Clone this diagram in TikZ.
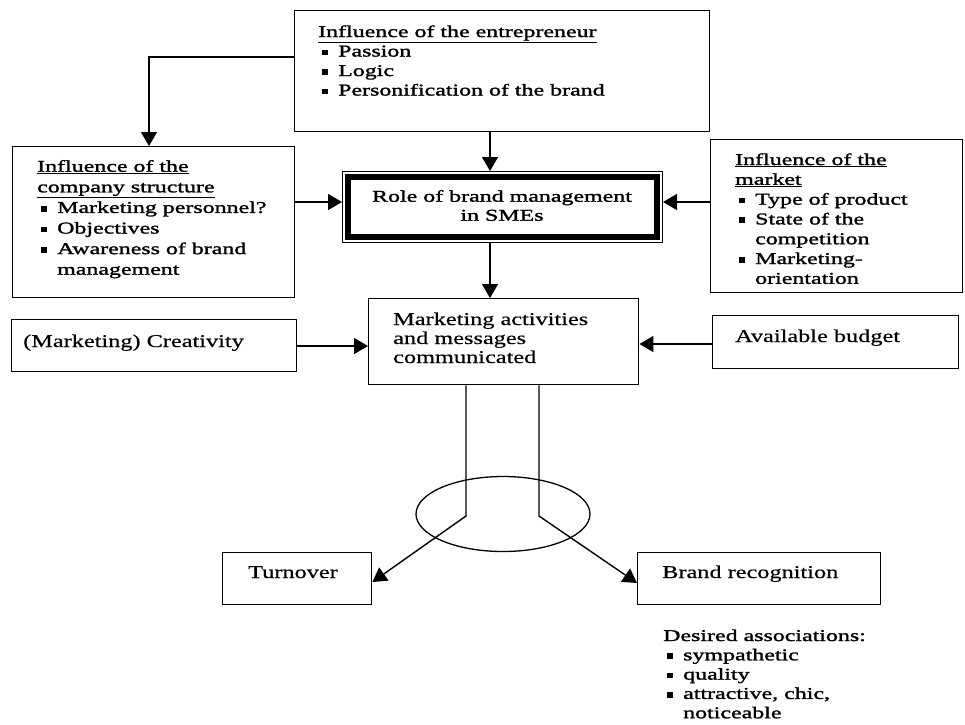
\documentclass[tikz,border=0pt]{standalone}
\usepackage{fontspec}
\setmainfont{Liberation Serif}
\newfontfamily\fa[FakeStretch=1.45,FakeBold=1.6]{Liberation Serif}
\newfontfamily\fb[FakeStretch=1.35,FakeBold=0.4]{Liberation Serif}
\usetikzlibrary{arrows.meta,shapes.geometric}
\newcommand\bul{\rule[0.08em]{0.34em}{0.34em}}
\newcommand\itm[1]{\hspace*{4pt}\makebox[16pt][l]{\bul}#1}
\newcommand\cnt[1]{\hspace*{20pt}#1}
\newcommand\ta[1][19.8]{\fa\fontsize{16.5}{#1}\selectfont}
\newcommand\tb[1][19.5]{\fb\fontsize{18}{#1}\selectfont}
\begin{document}
\begin{tikzpicture}[x=1pt,y=-1pt,
  box/.style={draw, line width=1.4pt, rectangle, inner sep=0pt, anchor=north west},
  lbl/.style={anchor=base west, inner sep=0pt},
  arr/.style={line width=1.4pt, -{Triangle[length=14pt,width=16pt]}}]
\fill[white] (0,0) rectangle (965,724);
\useasboundingbox (0,0) rectangle (965,724);

% boxes
\node[box, minimum width=415pt, minimum height=121pt] (ent) at (294,10) {};
\node[box, minimum width=282pt, minimum height=151pt] (comp) at (12,146) {};
\node[box, minimum width=252pt, minimum height=153pt] (mkt) at (710,139) {};
\node[box, line width=1pt, minimum width=320pt, minimum height=71pt] (role) at (342,171) {};
\draw[line width=6pt] ([shift={(6,6)}]role.north west) rectangle ([shift={(-6,-6)}]role.south east);
\node[box, minimum width=270pt, minimum height=86pt] (mact) at (368,298) {};
\node[box, minimum width=285pt, minimum height=52pt] (creat) at (11,319) {};
\node[box, minimum width=246pt, minimum height=53pt] (budg) at (712,315) {};
\node[box, minimum width=149pt, minimum height=52pt] (turn) at (222,552) {};
\node[box, minimum width=243pt, minimum height=52pt] (brand) at (637,552) {};
\node[draw, ellipse, line width=1.3pt, minimum width=174pt, minimum height=75pt, inner sep=0pt] (ell) at (503,514) {};

% texts
\node[lbl] (entT) at (318,37) {\parbox[t]{380pt}{\ta[19.5]\underline{Influence of the entrepreneur}\\
  \itm{Passion}\\ \itm{Logic}\\ \itm{Personification of the brand}}};
\node[lbl] (compT) at (37,171.7) {\parbox[t]{255pt}{\ta[20.6]\underline{Influence of the}\\
  \underline{company structure}\\ \itm{Marketing personnel?}\\ \itm{Objectives}\\
  \itm{Awareness of brand}\\ \cnt{management}}};
\node[lbl] (mktT) at (735,165) {\parbox[t]{225pt}{\ta[19.8]\underline{Influence of the}\\
  \underline{market}\\ \itm{Type of product}\\ \itm{State of the}\\ \cnt{competition}\\
  \itm{Marketing-}\\ \cnt{orientation}}};
\node[anchor=base, inner sep=0pt] (roleT) at (502,201.7) {\parbox[t]{300pt}{\centering\ta[19]Role of brand management\\ in SMEs}};
\node[lbl] (mactT) at (393,325) {\parbox[t]{240pt}{\tb[19]Marketing activities\\ and messages\\ communicated}};
\node[lbl] (creatT) at (23,347) {\tb (Marketing) Creativity};
\node[lbl] (budgT) at (735,342) {\tb Available budget};
\node[lbl] (turnT) at (248,578) {\tb Turnover};
\node[lbl] (brandT) at (662,578) {\tb Brand recognition};
\node[lbl] (desT) at (663,641) {\parbox[t]{300pt}{\ta[19.3]Desired associations:\\
  \itm{sympathetic}\\ \itm{quality}\\ \itm{attractive, chic,}\\ \cnt{noticeable}}};

% connector helpers
\coordinate (c1) at (490,0);
\coordinate (c2) at (149,57);
\coordinate (c3) at (0,202);
\coordinate (c4) at (0,346);
\coordinate (c5) at (0,344);
\coordinate (c6) at (466,516);
\coordinate (c7) at (539,516);
\coordinate (c8) at (0,582);
\coordinate (c9) at (0,583);

% connectors
\draw[arr] (ent.south -| c1) -- (role.north -| c1);
\draw[arr] (ent.west |- c2) -- (c2) -- (comp.north -| c2);
\draw[arr] (comp.east |- c3) -- (role.west |- c3);
\draw[arr] (mkt.west |- c3) -- (role.east |- c3);
\draw[arr] (role.south -| c1) -- (mact.north -| c1);
\draw[arr] (creat.east |- c4) -- (mact.west |- c4);
\draw[arr] (budg.west |- c5) -- (mact.east |- c5);
\draw[arr] (mact.south -| c6) -- (c6) -- (turn.east |- c8);
\draw[arr] (mact.south -| c7) -- (c7) -- (brand.west |- c9);
\end{tikzpicture}
\end{document}
